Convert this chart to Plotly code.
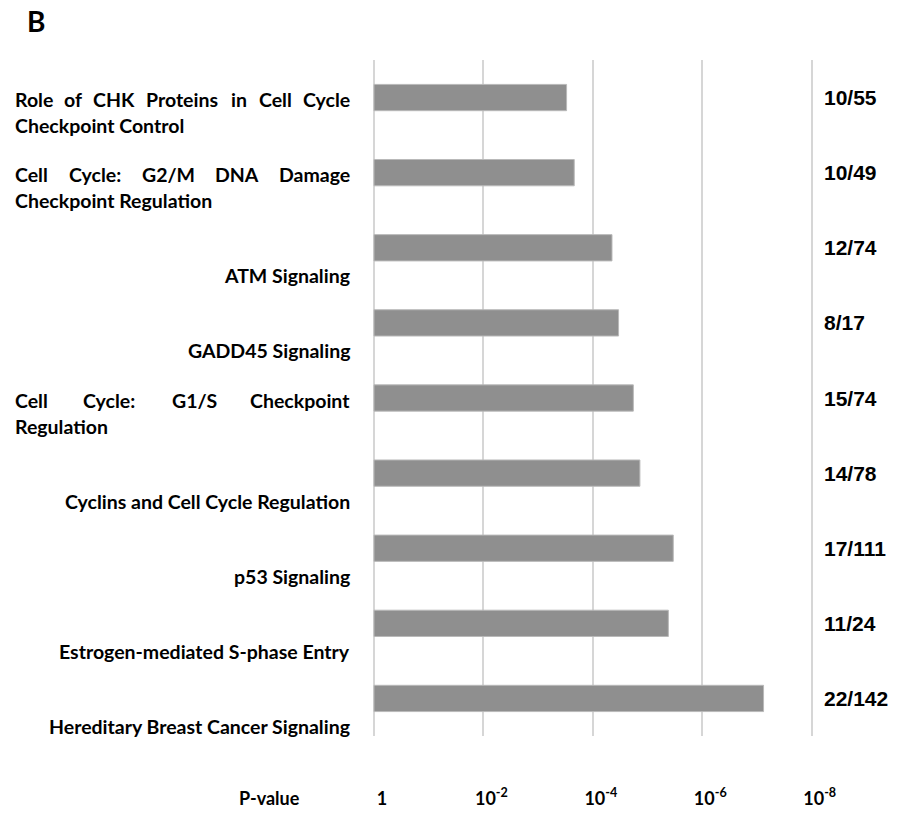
import plotly.graph_objects as go

# Canonical pathways (line breaks mark how each label wraps)
pathways = [
    "Role of CHK Proteins in Cell Cycle\nCheckpoint Control",
    "Cell Cycle: G2/M DNA Damage\nCheckpoint Regulation",
    "ATM Signaling",
    "GADD45 Signaling",
    "Cell Cycle: G1/S Checkpoint\nRegulation",
    "Cyclins and Cell Cycle Regulation",
    "p53 Signaling",
    "Estrogen-mediated S-phase Entry",
    "Hereditary Breast Cancer Signaling",
]
# -log10(p-value)
neg_log_p = [3.52, 3.66, 4.35, 4.47, 4.74, 4.86, 5.47, 5.38, 7.12]
# genes in dataset / genes in pathway
overlap = ["10/55", "10/49", "12/74", "8/17", "15/74", "14/78", "17/111", "11/24", "22/142"]

tick_vals = [0, 2, 4, 6, 8]
tick_text = ["1", "10<sup>-2</sup>", "10<sup>-4</sup>", "10<sup>-6</sup>", "10<sup>-8</sup>"]

W, H = 900, 826
cat_names = [p.replace("\n", " ") for p in pathways]

LABEL_FONT = "Lato"
LABEL_SIZE = 19.5
LEFT_X, RIGHT_X = 13, 352

# approximate advance widths (em) of Lato Bold, used to justify wrapped lines
_w = {
    'a': .52, 'b': .57, 'c': .47, 'd': .57, 'e': .54, 'f': .34, 'g': .52, 'h': .57,
    'i': .25, 'j': .25, 'k': .53, 'l': .25, 'm': .86, 'n': .57, 'o': .57, 'p': .57,
    'q': .57, 'r': .38, 's': .43, 't': .36, 'u': .57, 'v': .53, 'w': .79, 'x': .52,
    'y': .53, 'z': .47, 'A': .68, 'B': .65, 'C': .66, 'D': .74, 'E': .56, 'F': .54,
    'G': .72, 'H': .75, 'I': .29, 'J': .40, 'K': .66, 'L': .50, 'M': .92, 'N': .75,
    'O': .79, 'P': .60, 'Q': .79, 'R': .63, 'S': .54, 'T': .59, 'U': .72, 'V': .68,
    'W': 1.0, 'X': .66, 'Y': .63, 'Z': .61, ':': .27, '/': .38, '-': .38, ' ': .19,
}


def text_width(s, size=LABEL_SIZE):
    return sum(_w.get(ch, .58) for ch in s) * size


def px(x):
    return x / W


fig = go.Figure()
fig.add_trace(go.Bar(
    x=neg_log_p,
    y=cat_names,
    orientation="h",
    width=0.35,
    marker=dict(color="#8f8f8f", line=dict(color="#b9b9b9", width=1)),
    hoverinfo="x+y",
))

annotations = []
label_font = dict(family=LABEL_FONT, size=LABEL_SIZE, color="black", weight="bold")

for name, full in zip(cat_names, pathways):
    lines = full.split("\n")
    if len(lines) == 1:
        # single-line labels sit in the second line slot, right-aligned
        annotations.append(dict(
            x=px(RIGHT_X), xref="paper", xanchor="right",
            y=name, yref="y", yanchor="middle", yshift=-28,
            text=lines[0], showarrow=False, font=label_font))
        continue
    for li, line in enumerate(lines):
        yshift = -2 - 26 * li
        if li < len(lines) - 1:
            # justified line: spread words across the label column
            words = line.split()
            widths = [text_width(wd) for wd in words]
            gap = (RIGHT_X - LEFT_X - sum(widths)) / (len(words) - 1)
            pos = LEFT_X
            for wi, (wd, ww) in enumerate(zip(words, widths)):
                if wi == 0:
                    xa, xx = "left", pos
                elif wi == len(words) - 1:
                    xa, xx = "right", RIGHT_X
                else:
                    xa, xx = "center", pos + ww / 2
                annotations.append(dict(
                    x=px(xx), xref="paper", xanchor=xa,
                    y=name, yref="y", yanchor="middle", yshift=yshift,
                    text=wd, showarrow=False, font=label_font))
                pos += ww + gap
        else:
            annotations.append(dict(
                x=px(LEFT_X), xref="paper", xanchor="left",
                y=name, yref="y", yanchor="middle", yshift=yshift,
                text=line, showarrow=False, font=label_font))

# gene overlap counts at the right of each bar row
for name, cnt in zip(cat_names, overlap):
    annotations.append(dict(
        x=px(822), xref="paper", xanchor="left",
        y=name, yref="y", yanchor="middle", yshift=0,
        text=cnt, showarrow=False,
        font=dict(family="Liberation Sans", size=21, color="black", weight="bold")))

annotations.append(dict(
    x=px(269), xref="paper", xanchor="center",
    y=1 - 798 / H, yref="paper", yanchor="middle",
    text="P-value", showarrow=False,
    font=dict(family=LABEL_FONT, size=18, color="black", weight="bold")))

annotations.append(dict(
    x=px(25), xref="paper", xanchor="left",
    y=1 - 21 / H, yref="paper", yanchor="middle",
    text="B", showarrow=False,
    font=dict(family=LABEL_FONT, size=28, color="black", weight="bold")))

x_left_px, x_right_px = 374, 811.7
unit = (x_right_px - x_left_px) / 8
pad = 0.02

fig.update_layout(
    width=W, height=H, autosize=False,
    margin=dict(l=0, r=0, t=0, b=0, pad=0),
    paper_bgcolor="white", plot_bgcolor="white",
    showlegend=False,
    annotations=annotations,
    xaxis=dict(
        domain=[px(x_left_px - pad * unit), px(x_right_px + pad * unit)],
        range=[-pad, 8 + pad],
        automargin=False,
        tickvals=tick_vals, ticktext=tick_text,
        showgrid=True, gridcolor="#d6d6d6", gridwidth=2,
        zeroline=False, showline=False,
        ticks="outside", ticklen=46, tickcolor="rgba(0,0,0,0)",
        ticklabelshift=8,
        tickfont=dict(family=LABEL_FONT, size=18, color="black", weight="bold"),
        fixedrange=True,
    ),
    yaxis=dict(
        domain=[1 - 736 / H, 1 - 60 / H],
        automargin=False,
        type="category",
        categoryorder="array", categoryarray=cat_names,
        range=[len(cat_names) - 0.5, -0.5],
        showticklabels=False, showgrid=False, zeroline=False, showline=False,
        ticks="", fixedrange=True,
    ),
)

fig.write_html("out.html", config={"responsive": False})
